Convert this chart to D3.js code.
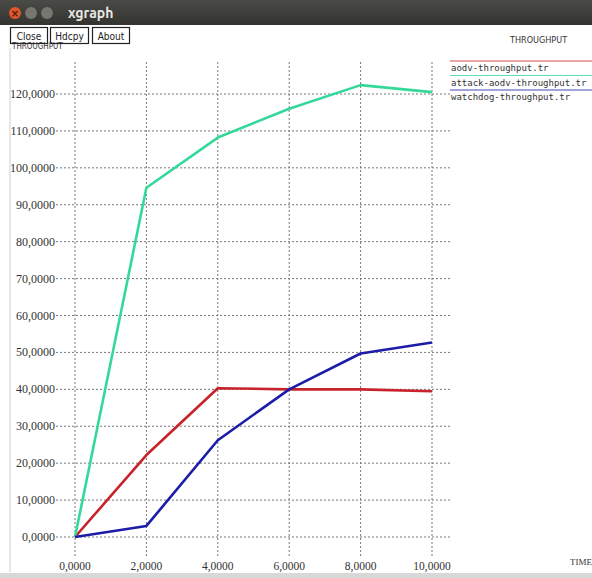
<!DOCTYPE html>
<html>
<head>
<meta charset="utf-8">
<script src="https://cdn.jsdelivr.net/npm/d3@7"></script>
<style>
body { margin: 0; background: #fff; }
text { font-family: "Liberation Serif", serif; }
.mono { font-family: "DejaVu Sans Mono", monospace; }
</style>
</head>
<body>
<script>
var w = 592, h = 578;

// data
var times = [0, 2, 4, 6, 8, 10];
var aodv = [0, 22.2, 40.3, 40.0, 40.0, 39.5];
var attackAodv = [0, 94.6, 108.2, 116.0, 122.4, 120.5];
var watchdog = [0, 3.0, 26.2, 40.0, 49.7, 52.7];
var seriesNames = ["aodv-throughput.tr", "attack-aodv-throughput.tr", "watchdog-throughput.tr"];
var seriesColors = ["#c8232b", "#34d99a", "#1c1ca8"];
var xTicks = [0, 2, 4, 6, 8, 10];
var yTicks = [0, 10, 20, 30, 40, 50, 60, 70, 80, 90, 100, 110, 120];
var buttons = ["Close", "Hdcpy", "About"];

var svg = d3.select("body").append("svg").attr("width", w).attr("height", h);

var x = d3.scaleLinear().domain([0, 10]).range([75, 432]);
var y = d3.scaleLinear().domain([0, 120]).range([537, 94]);

// title bar
var grad = svg.append("defs").append("linearGradient").attr("id", "tb")
	.attr("x1", 0).attr("y1", 0).attr("x2", 0).attr("y2", 1);
grad.append("stop").attr("offset", 0).attr("stop-color", "#4a4a46");
grad.append("stop").attr("offset", 1).attr("stop-color", "#33332f");
svg.append("rect").attr("x", 0).attr("y", 0).attr("width", w).attr("height", 25).attr("fill", "url(#tb)");
svg.append("circle").attr("cx", 15).attr("cy", 13).attr("r", 6).attr("fill", "#e0572c");
svg.append("text").attr("x", 15).attr("y", 16.5).attr("text-anchor", "middle")
	.attr("font-size", 10).attr("fill", "#4a1a08").attr("font-weight", "bold")
	.style("font-family", "DejaVu Sans").text("×");
svg.append("circle").attr("cx", 31).attr("cy", 13).attr("r", 6).attr("fill", "#77776f");
svg.append("circle").attr("cx", 47).attr("cy", 13).attr("r", 6).attr("fill", "#77776f");
svg.append("text").attr("x", 68).attr("y", 18).attr("fill", "#e8e8e4")
	.attr("font-size", 14).attr("font-weight", "bold").style("font-family", "Ubuntu, 'DejaVu Sans', sans-serif")
	.text("xgraph");

// frame line on the left and bottom strip
svg.append("line").attr("x1", 10).attr("x2", 10).attr("y1", 48).attr("y2", 572)
	.attr("stroke", "#cfcfcf").attr("stroke-width", 1);
svg.append("rect").attr("x", 0).attr("y", 573).attr("width", w).attr("height", 5).attr("fill", "#d8d8d8");

// buttons
var bx = [10, 50, 92], bw = [37, 38, 37];
buttons.forEach(function(b, i) {
	svg.append("rect").attr("x", bx[i] + 0.5).attr("y", 27.5).attr("width", bw[i]).attr("height", 16)
		.attr("fill", "#fff").attr("stroke", "#222").attr("stroke-width", 1.2);
	svg.append("text").attr("x", bx[i] + bw[i] / 2 + 0.5).attr("y", 40).attr("text-anchor", "middle")
		.attr("font-size", 10).attr("fill", "#222").style("font-family", "DejaVu Sans Condensed, DejaVu Sans")
		.text(b);
});

// axis labels
svg.append("text").attr("x", 12).attr("y", 49).attr("font-size", 8).attr("fill", "#333")
	.style("font-family", "DejaVu Sans Condensed, DejaVu Sans").text("THROUGHPUT");
svg.append("text").attr("x", 510).attr("y", 43).attr("font-size", 9).attr("fill", "#333")
	.style("font-family", "DejaVu Sans Condensed, DejaVu Sans").text("THROUGHPUT");
svg.append("text").attr("x", 570).attr("y", 565).attr("font-size", 9).attr("fill", "#333")
	.text("TIME");

// grid
var grid = svg.append("g");
grid.selectAll(".vg").data(xTicks).enter().append("line")
	.attr("x1", function(d) { return x(d); }).attr("x2", function(d) { return x(d); })
	.attr("y1", 62).attr("y2", 558)
	.attr("stroke", "#777").attr("stroke-width", 1).attr("stroke-dasharray", "2,2");
grid.selectAll(".hg").data(yTicks).enter().append("line")
	.attr("x1", 56).attr("x2", 450)
	.attr("y1", function(d) { return y(d); }).attr("y2", function(d) { return y(d); })
	.attr("stroke", "#777").attr("stroke-width", 1).attr("stroke-dasharray", "2,2");

// tick labels
svg.append("clipPath").attr("id", "lc").append("rect").attr("x", 11).attr("y", 50).attr("width", 100).attr("height", 520);
var fmt = function(d) { return d3.format(".4f")(d).replace(".", ","); };
svg.append("g").attr("clip-path", "url(#lc)").selectAll("text").data(yTicks).enter().append("text")
	.attr("x", 55).attr("y", function(d) { return y(d) + 4; })
	.attr("text-anchor", "end").attr("font-size", 12).attr("fill", "#333")
	.text(fmt);
svg.append("g").selectAll("text").data(xTicks).enter().append("text")
	.attr("x", function(d) { return x(d); }).attr("y", 570)
	.attr("text-anchor", "middle").attr("font-size", 11.5).attr("fill", "#333")
	.text(fmt);

// lines
var allSeries = [aodv, attackAodv, watchdog];
var line = d3.line().x(function(d, i) { return x(times[i]); }).y(function(d) { return y(d); });
svg.append("g").selectAll("path").data(allSeries).enter().append("path")
	.attr("d", line).attr("fill", "none")
	.attr("stroke", function(d, i) { return seriesColors[i]; })
	.attr("stroke-width", 2.6).attr("stroke-linejoin", "round");

// legend
var leg = svg.append("g");
seriesNames.forEach(function(n, i) {
	var ly = 61 + i * 14.5;
	leg.append("line").attr("x1", 450).attr("x2", w).attr("y1", ly).attr("y2", ly)
		.attr("stroke", seriesColors[i]).attr("stroke-width", 1.2).attr("opacity", 0.8);
	leg.append("text").attr("class", "mono").attr("x", 451).attr("y", ly + 10)
		.attr("font-size", 9).attr("fill", "#333").text(n);
});
</script>
</body>
</html>
